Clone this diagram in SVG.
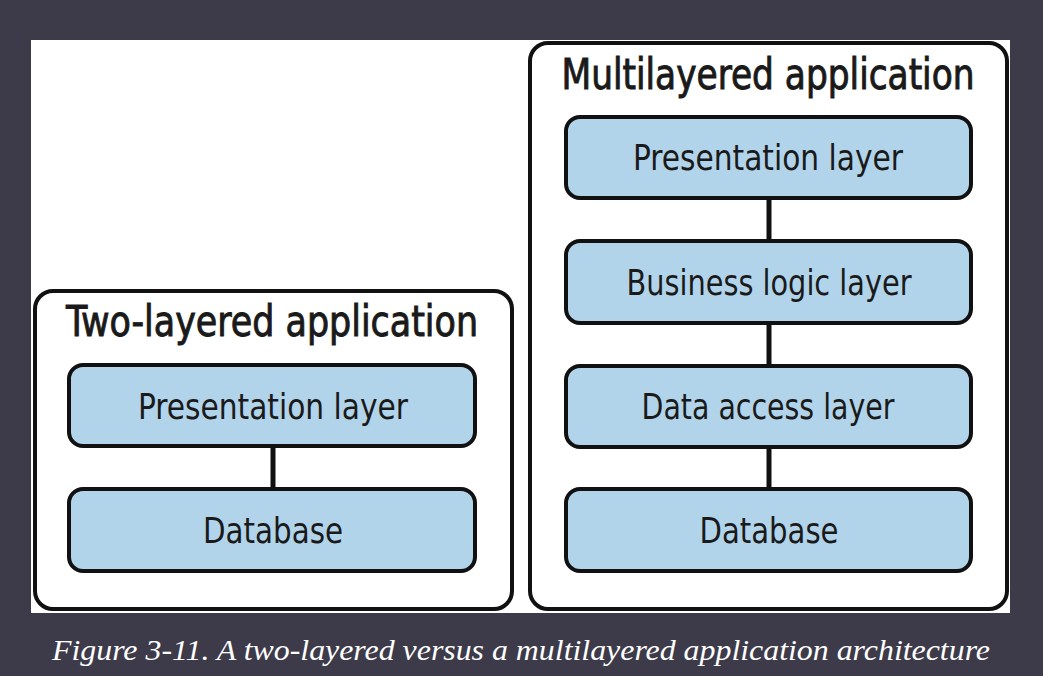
<svg xmlns="http://www.w3.org/2000/svg" width="1043" height="676" viewBox="0 0 1043 676">
<style>
.outer{fill:#ffffff;stroke:#111111;stroke-width:4}
.layer{fill:#b1d4ea;stroke:#111111;stroke-width:4}
.title{font-family:"Liberation Sans Narrow","DejaVu Sans Condensed","Liberation Sans",sans-serif;font-size:42px;fill:#1a1a1a;stroke:#1a1a1a;stroke-width:0.9;text-anchor:middle}
.lbl{font-family:"Liberation Sans Narrow","DejaVu Sans Condensed","Liberation Sans",sans-serif;font-size:36px;fill:#1a1a1a;text-anchor:middle}
.cap{font-family:"Liberation Serif","DejaVu Serif",serif;font-style:italic;font-size:29px;fill:#ffffff}
.conn{stroke:#111111;stroke-width:5;fill:none}
</style>
<rect x="0" y="0" width="1043" height="676" fill="#3d3a49"/>
<rect x="31" y="40" width="979" height="573" fill="#ffffff"/>
<g id="two-layered">
<rect class="outer" x="35" y="291" width="477" height="318" rx="18"/>
<text class="title" x="272" y="336" textLength="412" lengthAdjust="spacingAndGlyphs">Two-layered application</text>
</g>
<g id="multilayered">
<rect class="outer" x="530" y="43" width="477" height="566" rx="18"/>
<text class="title" x="768" y="89" textLength="413" lengthAdjust="spacingAndGlyphs">Multilayered application</text>
</g>
<g id="connectors">
<line class="conn" x1="273" y1="446" x2="273" y2="489"/>
<line class="conn" x1="769" y1="198" x2="769" y2="241"/>
<line class="conn" x1="769" y1="323" x2="769" y2="366"/>
<line class="conn" x1="769" y1="447" x2="769" y2="489"/>
</g>
<g id="two-presentation">
<rect class="layer" x="69" y="365" width="406" height="81" rx="14"/>
<text class="lbl" x="273" y="419" textLength="270" lengthAdjust="spacingAndGlyphs">Presentation layer</text>
</g>
<g id="two-database">
<rect class="layer" x="69" y="489" width="406" height="82" rx="14"/>
<text class="lbl" x="273" y="543" textLength="140" lengthAdjust="spacingAndGlyphs">Database</text>
</g>
<g id="multi-presentation">
<rect class="layer" x="566" y="117" width="405" height="81" rx="14"/>
<text class="lbl" x="768" y="170" textLength="270" lengthAdjust="spacingAndGlyphs">Presentation layer</text>
</g>
<g id="multi-business">
<rect class="layer" x="566" y="241" width="405" height="82" rx="14"/>
<text class="lbl" x="769" y="295" textLength="285" lengthAdjust="spacingAndGlyphs">Business logic layer</text>
</g>
<g id="multi-data-access">
<rect class="layer" x="566" y="366" width="405" height="81" rx="14"/>
<text class="lbl" x="768" y="419" textLength="253" lengthAdjust="spacingAndGlyphs">Data access layer</text>
</g>
<g id="multi-database">
<rect class="layer" x="566" y="489" width="405" height="82" rx="14"/>
<text class="lbl" x="769" y="543" textLength="139" lengthAdjust="spacingAndGlyphs">Database</text>
</g>
<text class="cap" x="52" y="660" textLength="938" lengthAdjust="spacingAndGlyphs">Figure 3-11. A two-layered versus a multilayered application architecture</text>
</svg>
